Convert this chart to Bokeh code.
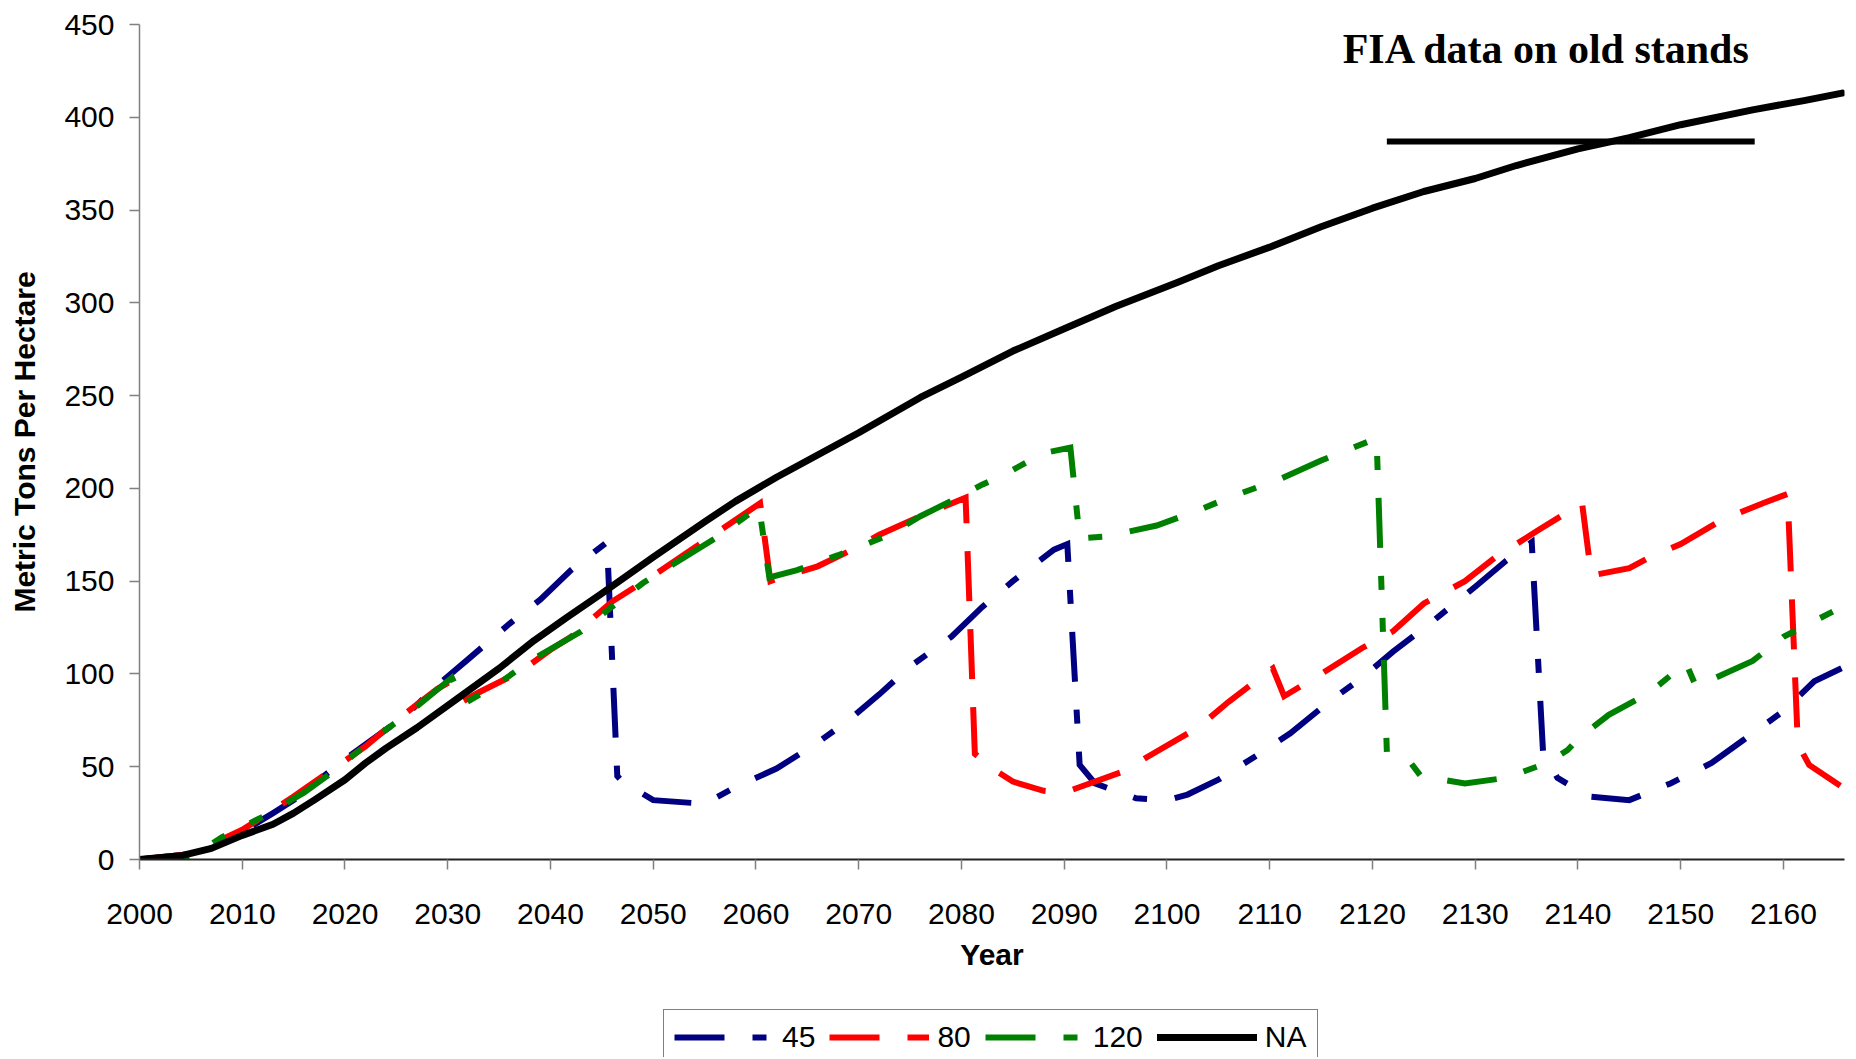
from bokeh.plotting import figure
from bokeh.layouts import column
from bokeh.models import Range1d, FixedTicker, Legend, LegendItem, Label
from bokeh.embed import file_html
from bokeh.resources import INLINE

# ---------------- data ----------------
x_ticks = [2000, 2010, 2020, 2030, 2040, 2050, 2060, 2070, 2080, 2090,
           2100, 2110, 2120, 2130, 2140, 2150, 2160]
y_ticks = [0, 50, 100, 150, 200, 250, 300, 350, 400, 450]

years_45 = [2000, 2005, 2010, 2013, 2015, 2020, 2026, 2029, 2032, 2036, 2039, 2042,
            2045.5, 2046.5, 2047, 2050, 2055, 2058, 2062, 2066, 2069, 2072, 2075,
            2079, 2082, 2085, 2089, 2090.3, 2091.5, 2093, 2097, 2100, 2102, 2105,
            2109, 2112, 2116, 2119, 2122, 2126, 2130, 2133, 2135.5, 2136.6, 2138,
            2141, 2145, 2149, 2153, 2156, 2160, 2163, 2166]
vals_45 = [0, 3, 15, 25, 32, 54, 78, 94, 108, 127, 140, 156,
           171, 45, 42, 32, 30, 39, 49, 63, 75, 89, 104,
           120, 136, 150, 167, 170, 51, 41, 33, 32, 35, 43,
           57, 68, 86, 98, 112, 129, 147, 161, 171, 58, 44,
           34, 32, 41, 52, 64, 80, 96, 104]

years_80 = [2000, 2005, 2010, 2012, 2015, 2022, 2025, 2029, 2030.3, 2031.4, 2033,
            2037, 2040, 2042, 2046, 2050, 2054, 2060.4, 2061.4, 2063, 2066, 2069,
            2072, 2076, 2080.4, 2081.3, 2083, 2085, 2088, 2090, 2092, 2096, 2098,
            2103, 2106, 2110.3, 2111.4, 2115, 2119, 2122, 2125, 2129, 2132, 2136,
            2140.4, 2141.3, 2145, 2147, 2150, 2154, 2158, 2160.4, 2161.4, 2162.5, 2166]
vals_80 = [0, 3, 16, 23, 34, 61, 75, 92, 96, 85, 90,
           101, 113, 120, 139, 153, 168, 192, 150, 153, 158, 166,
           175, 185, 195, 57, 49, 42, 37, 36, 40, 48, 55,
           71, 85, 103, 88, 100, 114, 123, 138, 150, 163, 177,
           192, 153, 157, 163, 170, 183, 192, 197, 62, 51, 38]

years_120 = [2000, 2005, 2008, 2012, 2016, 2019, 2023, 2026, 2030.4, 2031.6, 2035,
             2038, 2043, 2045, 2049, 2056, 2060.3, 2061.3, 2064, 2068, 2073, 2076,
             2080, 2082, 2084, 2088, 2090.6, 2091.5, 2094, 2099, 2103, 2106, 2111,
             2115, 2120.4, 2121.4, 2123.6, 2124.7, 2129, 2133, 2137, 2139, 2140,
             2143, 2147, 2150.5, 2151.5, 2153, 2157, 2160, 2166]
vals_120 = [0, 1, 12, 23, 36, 48, 66, 78, 98, 84, 95,
            107, 123, 132, 149, 173, 190, 152, 156, 164, 175, 185,
            196, 202, 207, 219, 222, 173, 174, 180, 188, 195, 205,
            215, 227, 58, 53, 45, 41, 44, 52, 59, 65,
            78, 90, 106, 93, 97, 107, 120, 137]

years_na = [2000, 2004, 2007, 2010, 2013, 2015, 2017, 2020, 2022, 2024, 2027, 2031,
            2035, 2038.4, 2041.6, 2044.9, 2050, 2055, 2058, 2062, 2066, 2070, 2076, 2080,
            2085, 2090, 2095, 2101, 2105, 2110, 2115, 2120, 2125, 2130, 2134, 2140,
            2145, 2150, 2157, 2162, 2165.7]
vals_na = [0, 2, 6, 13, 19, 25, 32, 43, 52, 60, 71, 87,
           103, 118, 130.5, 143, 163, 182, 193, 206, 218, 230, 249, 260,
           274, 286, 298, 311, 320, 330, 341, 351, 360, 367, 374, 383,
           389, 396, 404, 409, 413]

fia_years = [2121.4, 2157.2]
fia_vals = [387, 387]
fia_text = "FIA data on old stands"

series_labels = ["45", "80", "120", "NA"]
series_years = [years_45, years_80, years_120, years_na]
series_vals = [vals_45, vals_80, vals_120, vals_na]

# ---------------- styles ----------------
FONT = "Liberation Sans"
styles = [dict(line_color="#000080", line_width=6, line_dash="50 28 14 28", line_join="miter"),
          dict(line_color="#FF0000", line_width=6, line_dash="50 28", line_join="miter"),
          dict(line_color="#008000", line_width=6, line_dash="50 28 14 28 14 28", line_join="miter"),
          dict(line_color="black", line_width=7, line_join="round", line_cap="round")]

# ---------------- main figure ----------------
p = figure(width=1848, height=1000, output_backend="svg", toolbar_location=None,
           x_range=Range1d(2000, 2165.94), y_range=Range1d(0, 450),
           min_border_left=139, min_border_right=4, min_border_top=24,
           min_border_bottom=141)
p.outline_line_color = None
p.grid.visible = False
p.background_fill_color = "white"
p.border_fill_color = "white"

p.xaxis.ticker = FixedTicker(ticks=x_ticks)
p.yaxis.ticker = FixedTicker(ticks=y_ticks)
for ax in (p.xaxis, p.yaxis):
    ax.major_label_text_font = FONT
    ax.major_label_text_font_size = "30px"
    ax.major_label_text_color = "black"
    ax.axis_label_text_font = FONT
    ax.axis_label_text_font_size = "30px"
    ax.axis_label_text_font_style = "bold"
    ax.axis_label_text_color = "black"
    ax.major_tick_in = 0
    ax.major_tick_out = 10
    ax.minor_tick_line_color = None
    ax.major_tick_line_color = "#808080"
    ax.major_tick_line_width = 1.5

p.xaxis.axis_label = "Year"
p.xaxis.axis_line_color = "#222222"
p.xaxis.axis_line_width = 2
p.xaxis.major_label_standoff = 34
p.xaxis.axis_label_standoff = 11

p.yaxis.axis_label = "Metric Tons Per Hectare"
p.yaxis.axis_line_color = "#808080"
p.yaxis.axis_line_width = 1.5
p.yaxis.major_label_standoff = 15
p.yaxis.axis_label_standoff = 20

for yrs, vals, st in zip(series_years, series_vals, styles):
    p.line(yrs, vals, **st)

p.line(fia_years, fia_vals, line_color="black", line_width=6)
p.add_layout(Label(x=2117.1, y=437, text=fia_text, text_font="Liberation Serif",
                   text_font_style="bold", text_font_size="42px",
                   text_baseline="alphabetic", text_align="left", text_color="black"))

# ---------------- legend strip (its own view range keeps the lines out of sight) ----------------
lf = figure(width=1848, height=57, output_backend="svg", toolbar_location=None,
            x_axis_type=None, y_axis_type=None, x_range=Range1d(0, 1), y_range=Range1d(0, 1),
            min_border=0)
lf.outline_line_color = None
lf.grid.visible = False
lf.background_fill_color = "white"
lf.border_fill_color = "white"

items = []
for lab, yrs, vals, st in zip(series_labels, series_years, series_vals, styles):
    r = lf.line(yrs, vals, **st)
    items.append(LegendItem(label=lab, renderers=[r]))

legend = Legend(items=items, orientation="horizontal", location=(524, -8),
                glyph_width=100, glyph_height=34, label_height=34,
                label_standoff=8, spacing=14, padding=10, margin=0,
                label_text_font=FONT, label_text_font_size="30px",
                label_text_color="black",
                border_line_color="black", border_line_width=1,
                background_fill_color="white", background_fill_alpha=1.0)
lf.add_layout(legend, "center")

layout = column(p, lf, spacing=0)
open("out.html", "w").write(file_html(layout, INLINE))
